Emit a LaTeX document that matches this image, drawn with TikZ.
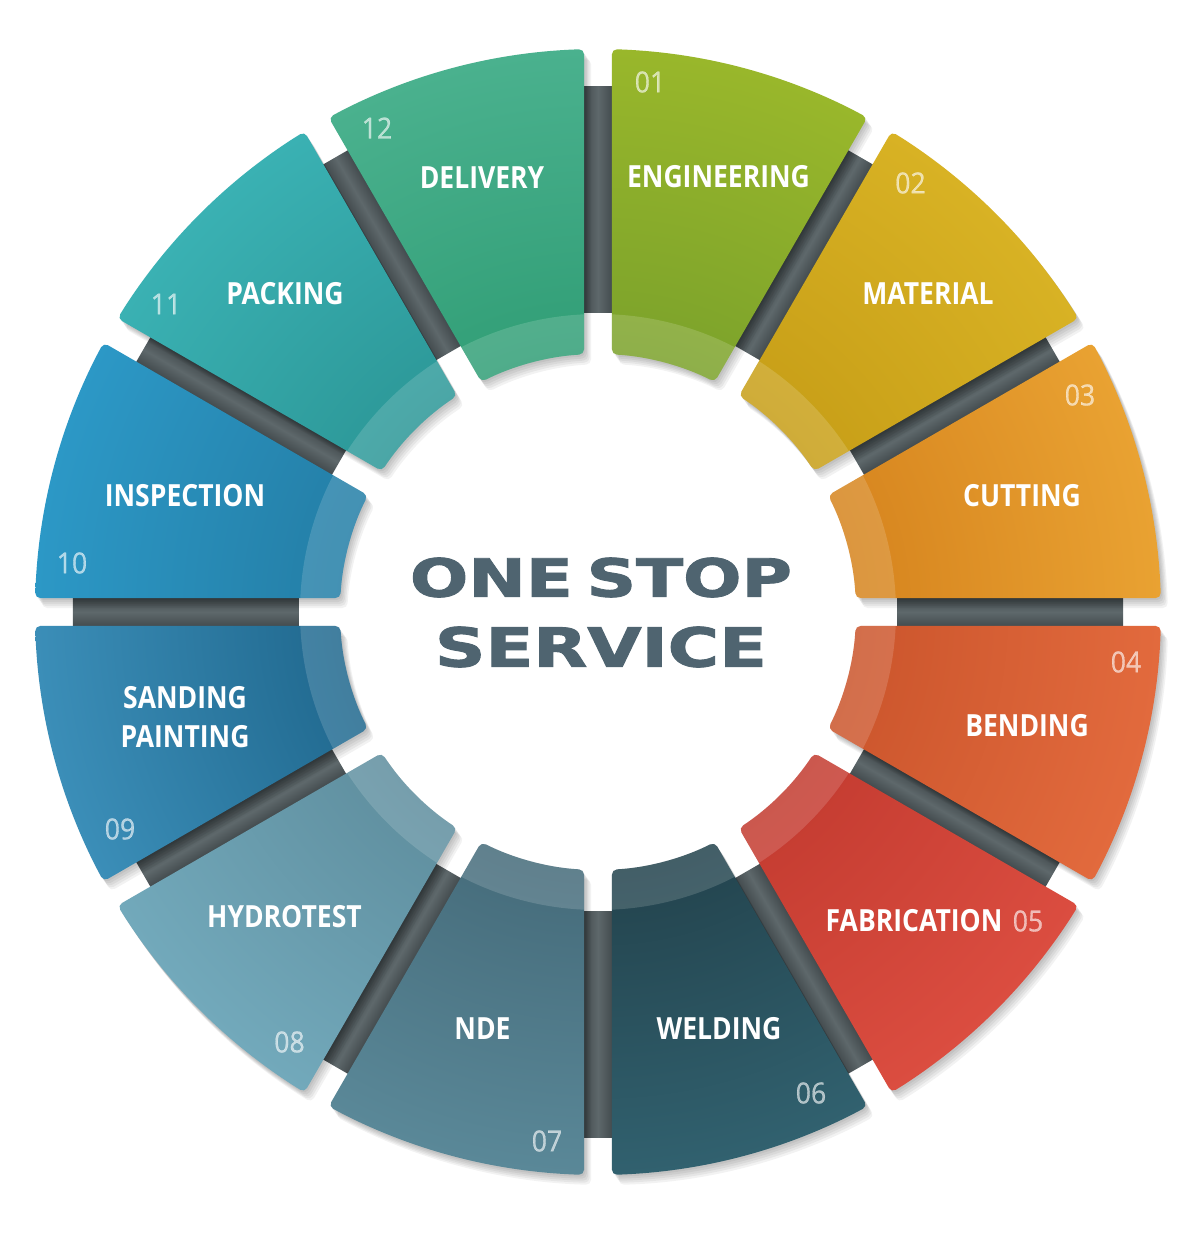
\documentclass[tikz,border=0pt]{standalone}
\usepackage{fontspec}
\setmainfont{Open Sans}
\newfontfamily\labfont[FakeStretch=0.87]{Open Sans}
\newfontfamily\numfont[FakeStretch=0.92,FakeBold=0.6]{Open Sans}
\newfontfamily\titlefont[FakeBold=1.6]{DejaVu Sans}
\definecolor{in1}{HTML}{7BA22B}\definecolor{out1}{HTML}{99B72B}
\definecolor{in2}{HTML}{C79E17}\definecolor{out2}{HTML}{D8B224}
\definecolor{in3}{HTML}{D6841E}\definecolor{out3}{HTML}{E9A232}
\definecolor{in4}{HTML}{CB552C}\definecolor{out4}{HTML}{E26A3D}
\definecolor{in5}{HTML}{C33B30}\definecolor{out5}{HTML}{DB4D40}
\definecolor{in6}{HTML}{23434D}\definecolor{out6}{HTML}{31616F}
\definecolor{in7}{HTML}{456B7A}\definecolor{out7}{HTML}{5A8898}
\definecolor{in8}{HTML}{5F8E9E}\definecolor{out8}{HTML}{72A9BB}
\definecolor{in9}{HTML}{20688E}\definecolor{out9}{HTML}{3B8EB8}
\definecolor{in10}{HTML}{247EA6}\definecolor{out10}{HTML}{2C98C6}
\definecolor{in11}{HTML}{2C9797}\definecolor{out11}{HTML}{3AB1B3}
\definecolor{in12}{HTML}{319E76}\definecolor{out12}{HTML}{4AB18E}
\definecolor{spk1}{HTML}{424A4D}
\definecolor{spk2}{HTML}{5E686B}
\definecolor{titlec}{HTML}{4F6470}
\colorlet{segin}{in1}\colorlet{segout}{out1}
\pgfdeclareradialshading[segin,segout]{segsh}{\pgfpointorigin}{color(0bp)=(segin); color(11.4bp)=(segin); color(25bp)=(segout); color(50bp)=(segout)}
\newcommand\mysegpath[1]{({#1-1.425}:563) arc[start angle={#1-1.425}, end angle={#1-30+1.425}, radius=563] -- ({#1-30+3.11}:258) arc[start angle={#1-30+3.11}, end angle={#1-3.11}, radius=258] -- cycle}
\tikzset{
  lab/.style={text=white, font=\labfont\bfseries\fontsize{30.5}{39}\selectfont, align=center, inner sep=0pt},
  num/.style={text=white, text opacity=0.62, font=\numfont\fontsize{29}{30}\selectfont, inner sep=0pt},
  ttl/.style={text=titlec, font=\titlefont\bfseries, inner sep=0pt},
}
\begin{document}
\begin{tikzpicture}[x=1pt,y=1pt]
\useasboundingbox (-598,-623) rectangle (605,612);
\fill[white] (-598,-623) rectangle (605,612);
% spokes
\foreach \a in {0,30,...,330}{
  \begin{scope}[transform canvas={rotate=\a}]
    \shade[top color=spk1, bottom color=spk1, middle color=spk2] (299,-15) rectangle (525,15);
  \end{scope}
}
% shadows
\foreach \k in {1,...,12}{
  \pgfmathsetmacro\aa{90-30*(\k-1)}
  \foreach \s in {2,4,6,8,10}{
    \fill[black, opacity=0.05, rounded corners=5, shift={(0.7*\s,-\s)}] \mysegpath{\aa};
  }
}
% segments
\foreach \k in {1,...,12}{
  \pgfmathsetmacro\aa{90-30*(\k-1)}
  \colorlet{segin}{in\k}\colorlet{segout}{out\k}
  \begin{scope}
    \clip[rounded corners=5] \mysegpath{\aa};
    \shade[shading=segsh] (0,0) circle (563);
    \fill[white, opacity=.15] (0,0) circle (298);
  \end{scope}
}
% labels
\node[lab] (l1) at (120.5,435) {ENGINEERING};
\node[lab] (l2) at (330,318) {MATERIAL};
\node[lab] (l3) at (424,116) {CUTTING};
\node[lab] (l4) at (429,-113.5) {BENDING};
\node[lab] (l5) at (316,-309) {FABRICATION};
\node[lab] (l6) at (121,-417) {WELDING};
\node[lab] (l7) at (-115.5,-417) {NDE};
\node[lab] (l8) at (-313.5,-305) {HYDROTEST};
\node[lab] (l9) at (-413,-105.5) {SANDING\\PAINTING};
\node[lab] (l10) at (-413,116) {INSPECTION};
\node[lab] (l11) at (-313,318) {PACKING};
\node[lab] (l12) at (-116,434.5) {DELIVERY};
% numbers
\node[num] (n1) at (52,530) {01};
\node[num] (n2) at (312.5,429) {02};
\node[num] (n3) at (482,217) {03};
\node[num] (n4) at (528,-50) {04};
\node[num] (n5) at (430,-309) {05};
\node[num] (n6) at (213,-481) {06};
\node[num] (n7) at (-51,-529) {07};
\node[num] (n8) at (-308.5,-430) {08};
\node[num] (n9) at (-478,-217) {09};
\node[num] (n10) at (-526,49) {10};
\node[num] (n11) at (-432,308) {11};
\node[num] (n12) at (-221,484) {12};
% title
\node[ttl] (t1) at (3,34.5) {\resizebox{382pt}{39pt}{ONE\hspace{0.2em}STOP}};
\node[ttl] (t2) at (3,-35) {\resizebox{332pt}{40pt}{SERVICE}};
\end{tikzpicture}
\end{document}
